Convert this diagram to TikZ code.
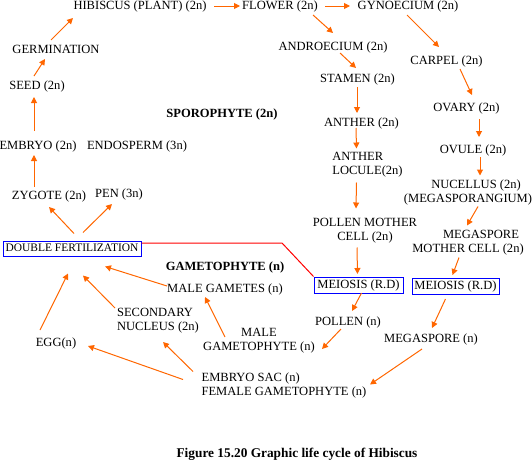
\documentclass[tikz,border=0pt]{standalone}
\usepackage{fontspec}
\setmainfont{Liberation Serif}
\usetikzlibrary{arrows.meta}
\definecolor{arrorange}{HTML}{FF6600}
\tikzset{
  txt/.style={inner sep=0.75pt, font=\fontsize{9.4}{10.5}\selectfont, text height=6.8pt, text depth=1.9pt},
  mtxt/.style={inner sep=0.75pt, font=\fontsize{9.4}{10.5}\selectfont},
  btxt/.style={txt, font=\fontsize{9.4}{10.5}\selectfont\bfseries},
  bluebox/.style={draw=blue, line width=0.75pt, inner sep=0pt, minimum width=66pt, minimum height=12pt, font=\fontsize{9.4}{10.5}\selectfont, text height=6.8pt, text depth=1.9pt},
  arr/.style={draw=arrorange, line width=0.75pt, -{Triangle[length=4.5pt,width=4.5pt]}},
  redline/.style={draw=red, line width=0.75pt}
}
\begin{document}
\begin{tikzpicture}[x=0.75pt, y=-0.75pt]
\useasboundingbox (0,0) rectangle (532,464);
% sporophyte side
\node[txt] (hib) at (140,6) {HIBISCUS (PLANT) (2n)};
\node[txt] (flower) at (280,6) {FLOWER (2n)};
\node[txt] (gyn) at (408,6) {GYNOECIUM (2n)};
\node[txt] (germ) at (56,50) {GERMINATION};
\node[txt] (seed) at (37,86) {SEED (2n)};
\node[btxt] (sporo) at (222,114) {SPOROPHYTE (2n)};
\node[txt] (embryo) at (38,146) {EMBRYO (2n)};
\node[txt] (endo) at (137,146) {ENDOSPERM (3n)};
\node[txt] (zyg) at (49,196) {ZYGOTE (2n)};
\node[txt] (pen) at (119,194) {PEN (3n)};
\node[bluebox, font=\fontsize{8.6}{10}\selectfont, text height=6.2pt, text depth=1.7pt, minimum width=103.5pt, minimum height=11.25pt] (df) at (72,248.5) {DOUBLE FERTILIZATION};
\node[btxt] (gameto) at (225,267) {GAMETOPHYTE (n)};
\node[txt] (mgam) at (225,289) {MALE GAMETES (n)};
\node[mtxt, align=left] (secn) at (158,321) {SECONDARY\\NUCLEUS (2n)};
\node[txt] (egg) at (56,343) {EGG(n)};
\node[mtxt, align=center] (mgph) at (259,341) {MALE\\GAMETOPHYTE (n)};
\node[txt] (pollen) at (348,322) {POLLEN (n)};
\node[txt] (megasp) at (431,339) {MEGASPORE (n)};
\node[mtxt, align=left] (esac) at (284,385.5) {EMBRYO SAC (n)\\FEMALE GAMETOPHYTE (n)};
\node[txt] (andro) at (333,47) {ANDROECIUM (2n)};
\node[txt] (stamen) at (357.5,79) {STAMEN (2n)};
\node[txt] (carpel) at (446.5,61) {CARPEL (2n)};
\node[txt] (ovary) at (466.5,108) {OVARY (2n)};
\node[txt] (anther) at (361.5,123) {ANTHER (2n)};
\node[txt] (ovule) at (473,150) {OVULE (2n)};
\node[mtxt, align=left] (locule) at (367.5,164.5) {ANTHER\\LOCULE(2n)};
\node[mtxt, align=center] (nuc) at (468,192.5) {\hspace*{12pt}NUCELLUS (2n)\\(MEGASPORANGIUM)};
\node[mtxt, align=center] (pmc) at (365,230.5) {POLLEN MOTHER\\CELL (2n)};
\node[mtxt, align=center] (mmc) at (468,242.5) {\hspace*{19.5pt}MEGASPORE\\MOTHER CELL (2n)};
\node[bluebox, minimum width=66.75pt] (meiL) at (358.5,285) {MEIOSIS (R.D)};
\node[bluebox, minimum width=65.25pt] (meiR) at (455.5,286) {MEIOSIS (R.D)};
\node[txt, font=\fontsize{10}{12}\selectfont\bfseries] (caption) at (297,454) {Figure 15.20 Graphic life cycle of Hibiscus};
% red connector
\coordinate (bend) at (282,243);
\draw[redline] ([shift={(0,-5.5)}]df.east) -- (bend) -- (meiL.north west);
% arrows
\draw[arr] ([shift={(74,0)}]hib.center) -- ([shift={(-40,0)}]flower.center);
\draw[arr] ([shift={(45,0)}]flower.center) -- ([shift={(-58,0)}]gyn.center);
\draw[arr] ([shift={(-5,-10)}]germ.center) -- ([shift={(-67,12)}]hib.center);
\draw[arr] ([shift={(-3,-10)}]seed.center) -- ([shift={(-11,9)}]germ.center);
\draw[arr] ([shift={(-4,-15)}]embryo.center) -- ([shift={(-3,11)}]seed.center);
\draw[arr] ([shift={(-15,-9)}]zyg.center) -- ([shift={(-4,9)}]embryo.center);
\draw[arr] ([shift={(2,-15)}]df.center) -- ([shift={(0,11)}]zyg.center);
\draw[arr] ([shift={(11,-16)}]df.center) -- ([shift={(-7,10)}]pen.center);
\draw[arr] ([shift={(-58,-3)}]mgam.center) -- ([shift={(33,18)}]df.center);
\draw[arr] ([shift={(-43,-13)}]secn.center) -- ([shift={(11,27)}]df.center);
\draw[arr] ([shift={(-16,-13)}]egg.center) -- ([shift={(-4,25)}]df.center);
\draw[arr] ([shift={(-101,-6)}]esac.center) -- ([shift={(32,3)}]egg.center);
\draw[arr] ([shift={(-91,-14)}]esac.center) -- ([shift={(5,21)}]secn.center);
\draw[arr] ([shift={(-34,-4)}]mgph.center) -- ([shift={(-20,8)}]mgam.center);
\draw[arr] ([shift={(3,8)}]meiL.center) -- ([shift={(4,-11)}]pollen.center);
\draw[arr] ([shift={(-7,7)}]pollen.center) -- ([shift={(63,8)}]mgph.center);
\draw[arr] ([shift={(-10,13)}]meiR.center) -- ([shift={(1,-11)}]megasp.center);
\draw[arr] ([shift={(-9,10)}]megasp.center) -- ([shift={(86,-1)}]esac.center);
\draw[arr] ([shift={(33,9)}]flower.center) -- ([shift={(0,-14)}]andro.center);
\draw[arr] ([shift={(-1,9)}]gyn.center) -- ([shift={(-7.5,-14)}]carpel.center);
\draw[arr] ([shift={(7,6)}]andro.center) -- ([shift={(-1.5,-11)}]stamen.center);
\draw[arr] ([shift={(13.5,8)}]carpel.center) -- ([shift={(5.5,-13)}]ovary.center);
\draw[arr] ([shift={(-0.5,8)}]stamen.center) -- ([shift={(-4.5,-10)}]anther.center);
\draw[arr] ([shift={(-5.5,5)}]anther.center) -- ([shift={(-11,-16)}]locule.center);
\draw[arr] ([shift={(12.5,11)}]ovary.center) -- ([shift={(6,-13)}]ovule.center);
\draw[arr] ([shift={(7,7)}]ovule.center) -- ([shift={(12,-17)}]nuc.center);
\draw[arr] ([shift={(-11,18)}]locule.center) -- ([shift={(-9,-22)}]pmc.center);
\draw[arr] ([shift={(10,14)}]nuc.center) -- ([shift={(-1,-17)}]mmc.center);
\draw[arr] ([shift={(-8,17)}]pmc.center) -- ([shift={(-1,-11)}]meiL.center);
\draw[arr] ([shift={(-9,15)}]mmc.center) -- ([shift={(-3,-11)}]meiR.center);
\end{tikzpicture}
\end{document}
